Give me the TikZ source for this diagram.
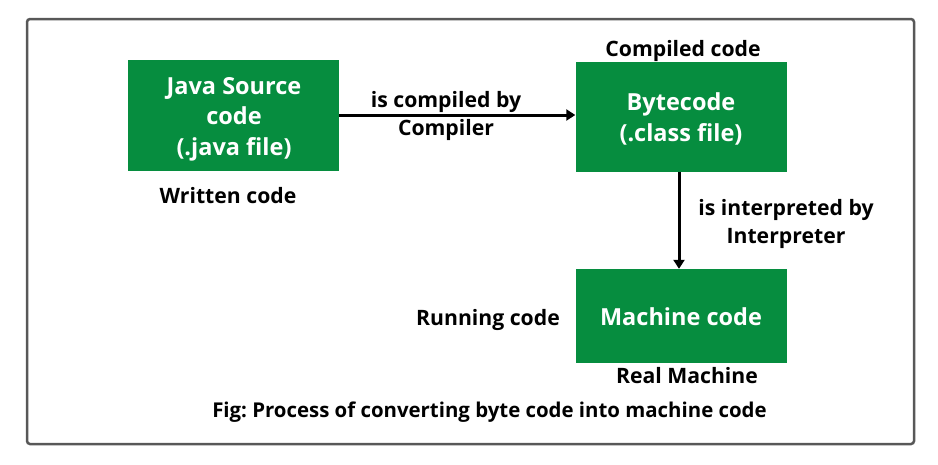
\documentclass[tikz,border=0pt]{standalone}
\usepackage{fontspec}
\setmainfont{Open Sans}
\frenchspacing
\definecolor{gfgreen}{RGB}{6,141,63}
\definecolor{framegray}{RGB}{88,88,88}
\tikzset{
  greenbox/.style={fill=gfgreen, minimum width=211pt, inner sep=0pt},
  boxtxt/.style={text=white, align=center, anchor=base, font=\fontsize{23.5}{30.5}\selectfont\bfseries, inner sep=0pt},
  lbl/.style={align=center, anchor=base, font=\fontsize{21.2}{28}\selectfont\bfseries, inner sep=0pt},
  flow/.style={line width=3pt, -{Triangle[length=9pt,width=11pt]}}
}
\usetikzlibrary{arrows.meta}
\begin{document}
\begin{tikzpicture}[x=1pt,y=-1pt]
\useasboundingbox (0,0) rectangle (938,464);
\draw [framegray, line width=2.5pt, rounded corners=3pt] (27,19) rectangle (914,444);
% boxes
\node [greenbox, minimum height=111pt] (src) at (233.5,115.5) {};
\node [greenbox, minimum height=110pt] (byte) at (681,117) {};
\node [greenbox, minimum height=94pt] (mach) at (681,316) {};
\node [boxtxt] (srctxt) at (234,155) {Java Source\\code\\(.java file)};
\node [boxtxt] (bytetxt) at (681,141) {Bytecode\\(.class file)};
\node [boxtxt] (machtxt) at (681,325) {Machine code};
% connectors
\draw [flow] (src.east |- 0,115) -- (byte.west |- 0,115);
\draw [flow] (byte.south -| 679,0) -- (mach.north -| 679,0);
% labels
\node [lbl] (compiled) at (446,135) {is compiled by\\Compiler};
\node [lbl] (compcode) at (683,56) {Compiled code};
\node [lbl] (written) at (228,203) {Written code};
\node [lbl] (interp) at (786,243) {is interpreted by\\Interpreter};
\node [lbl] (running) at (488,325) {Running code};
\node [lbl] (real) at (687,383) {Real Machine};
\node [lbl, font=\fontsize{20.4}{24}\selectfont\bfseries] (fig) at (489.5,417) {Fig: Process of converting byte code into machine code};
\end{tikzpicture}
\end{document}
